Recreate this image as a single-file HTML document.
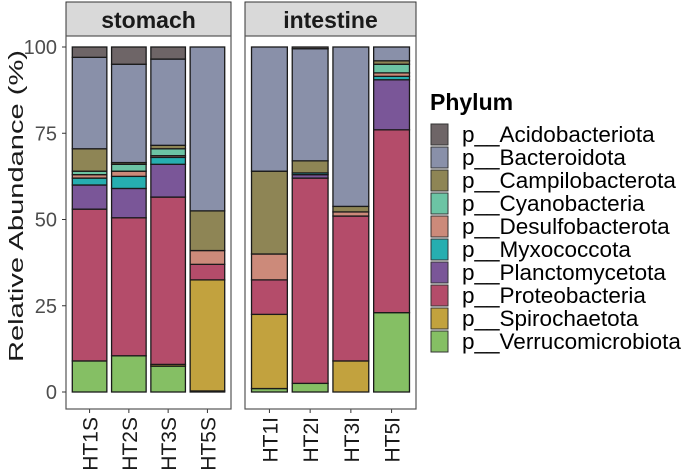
<!DOCTYPE html>
<html><head><meta charset="utf-8"><style>
body{margin:0;background:#fff;font-family:"Liberation Sans",Arial,sans-serif}
svg text{font-family:"Liberation Sans",Arial,sans-serif}
</style></head><body>
<svg id="c" width="694" height="469" xmlns="http://www.w3.org/2000/svg"></svg>
<script>
const phyla=["p__Acidobacteriota","p__Bacteroidota","p__Campilobacterota","p__Cyanobacteria","p__Desulfobacterota","p__Myxococcota","p__Planctomycetota","p__Proteobacteria","p__Spirochaetota","p__Verrucomicrobiota"];
const colors=["#6e6567","#8990a9","#8e8555","#6cc4a4","#cc8a7a","#26aeb0","#7a5698","#b44c6a","#c2a23e","#85bf64"];
const stomachSamples=["HT1S","HT2S","HT3S","HT5S"];
const intestineSamples=["HT1I","HT2I","HT3I","HT5I"];
// values per sample, order: Acido,Bact,Campilo,Cyano,Desulfo,Myxo,Plancto,Proteo,Spiro,Verruco
const HT1S=[3,26.5,6.5,1,1,2,7,44,0,9];
const HT2S=[5,28.5,0.5,2,1.5,3.5,8.5,40,0,10.5];
const HT3S=[3.5,25,1,2,0.5,2,9.5,48.5,0.5,7.5];
const HT5S=[0,47.5,11.5,0,4,0,0,4.5,32.2,0.3];
const HT1I=[0,36,24,0,7.5,0,0,10,21.5,1];
const HT2I=[0.5,32.5,3.5,0,0,0.5,1,59.5,0,2.5];
const HT3I=[0,46.2,1.6,0,1.2,0,0,42,9,0];
const HT5I=[0,4,1,2.5,1,1,14.5,53,0,23];
const yTicks=[0,25,50,75,100];
const panels=[{title:"stomach",x0:66,x1:231,samples:stomachSamples,vals:[HT1S,HT2S,HT3S,HT5S]},
{title:"intestine",x0:245,x1:416,samples:intestineSamples,vals:[HT1I,HT2I,HT3I,HT5I]}];
const NS="http://www.w3.org/2000/svg",svg=document.getElementById("c");
function el(t,a,p){const e=document.createElementNS(NS,t);for(const k in a)e.setAttribute(k,a[k]);(p||svg).appendChild(e);return e;}
const yTop=47,yBot=392,pTop=36,pBot=409;
const y=v=>yBot-(yBot-yTop)*v/100;
panels.forEach((p,pi)=>{
 const g=el("g",{});
 
 
 const hdr=el("rect",{x:p.x0,y:2,width:p.x1-p.x0,height:pTop-2,fill:"#d9d9d9",stroke:"#333","stroke-width":1},g);
 
 
 const ht=el("text",{x:(p.x0+p.x1)/2,y:28,"text-anchor":"middle","font-size":23,"font-weight":"bold",fill:"#1a1a1a"},g);
 ht.textContent=p.title;
 
 
 const w=p.x1-p.x0,band=w/4.2,bw=band*0.88;
 p.samples.forEach((s,i)=>{
  const cx=p.x0+band*(0.6+i);
  let cum=0;
  for(let k=phyla.length-1;k>=0;k--){
   const v=p.vals[i][k];
   if(v<=0)continue;
   const r=el("rect",{x:cx-bw/2,y:y(cum+v),width:bw,height:y(cum)-y(cum+v),fill:colors[k],stroke:"#1a1a1a","stroke-width":1.3},g);
   
   
   cum+=v;
  }
  el("line",{x1:cx,x2:cx,y1:pBot,y2:pBot+4,stroke:"#333"},g);
  const t=el("text",{transform:`translate(${cx+8},${pBot+8}) rotate(-90)`,"text-anchor":"end","font-size":21,fill:"#1a1a1a"},g);
  t.textContent=s;
  
  
 });
 const fr=el("rect",{x:p.x0,y:pTop,width:w,height:pBot-pTop,fill:"none",stroke:"#555","stroke-width":1.2},g);
 
 
});
yTicks.forEach(v=>{
 el("line",{x1:62,x2:66,y1:y(v),y2:y(v),stroke:"#333"});
 const t=el("text",{x:57,y:y(v)+7,"text-anchor":"end","font-size":20,fill:"#4d4d4d"});
 t.textContent=v;
 
 
});
const yt=el("text",{transform:"translate(23,206) rotate(-90)","text-anchor":"middle","font-size":20,fill:"#1a1a1a",textLength:312,lengthAdjust:"spacingAndGlyphs"});
yt.textContent="Relative Abundance (%)";


const lt=el("text",{x:430,y:110,"font-size":23,"font-weight":"bold",fill:"#000"});
lt.textContent="Phylum";


phyla.forEach((n,i)=>{
 const yy=124+i*23;
 const r=el("rect",{x:431,y:yy,width:17,height:21,fill:colors[i],stroke:"#333","stroke-width":1});
 
 
 const t=el("text",{x:462,y:yy+18,"font-size":22.5,fill:"#000"});
 t.textContent=n;
 
 
});
</script>
</body></html>
